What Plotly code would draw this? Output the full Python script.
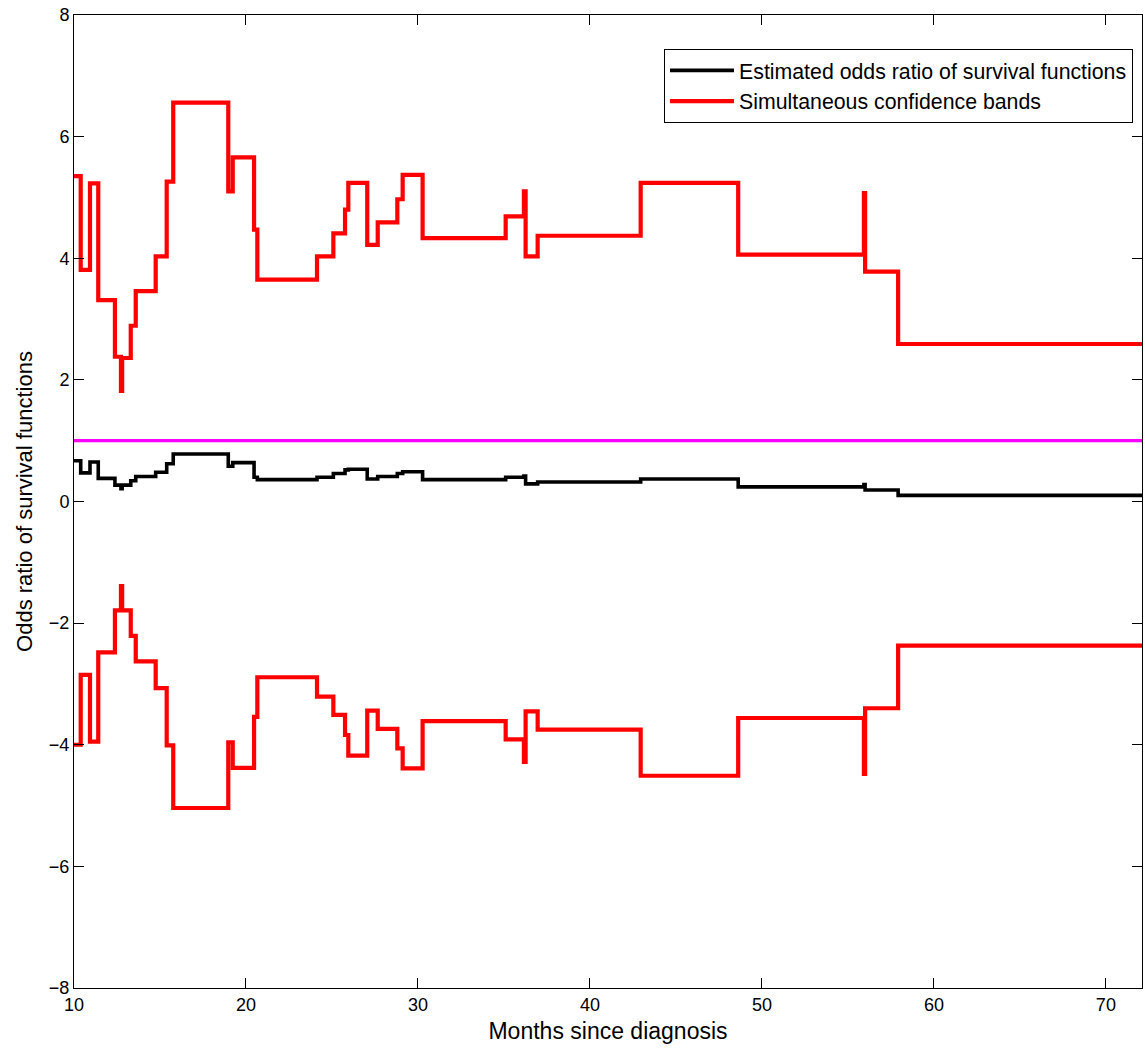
import plotly.graph_objects as go

# Step times (months since diagnosis) at which the curves jump
times = [10.0, 10.39, 10.93, 11.41, 12.38, 12.73, 12.80, 13.30, 13.59, 14.75, 15.39, 15.77,
         18.97, 19.23, 20.47, 20.66, 24.13, 25.08, 25.76, 25.95, 27.05, 27.66, 28.80, 29.11,
         30.27, 35.10, 36.16, 36.26, 36.96, 42.95, 48.62, 55.93, 56.00, 57.92, 72.1]

upper_band = [5.35, 3.81, 5.23, 3.31, 2.38, 1.82, 2.36, 2.89, 3.46, 4.03, 5.26, 6.56,
              5.10, 5.66, 4.47, 3.65, 4.03, 4.41, 4.80, 5.24, 4.22, 4.59, 4.97, 5.37,
              4.33, 4.69, 5.10, 4.03, 4.37, 5.24, 4.06, 5.07, 3.78, 2.59, 2.59]

lower_band = [-4.00, -2.85, -3.95, -2.48, -1.79, -1.39, -1.79, -2.21, -2.63, -3.07, -4.01, -5.04,
              -3.96, -4.38, -3.54, -2.89, -3.21, -3.51, -3.84, -4.18, -3.44, -3.74, -4.06, -4.39,
              -3.61, -3.91, -4.28, -3.45, -3.75, -4.51, -3.56, -4.48, -3.40, -2.37, -2.37]

estimate = [0.67, 0.47, 0.65, 0.38, 0.27, 0.21, 0.27, 0.34, 0.41, 0.48, 0.62, 0.78,
            0.58, 0.64, 0.40, 0.36, 0.40, 0.46, 0.52, 0.53, 0.37, 0.41, 0.46, 0.49,
            0.36, 0.40, 0.42, 0.29, 0.32, 0.37, 0.24, 0.28, 0.19, 0.10, 0.10]

reference_x = [10.0, 72.1]
reference_y = [1.0, 1.0]

x_ticks = [10, 20, 30, 40, 50, 60, 70]
y_ticks = [-8, -6, -4, -2, 0, 2, 4, 6, 8]

FONT = "Liberation Sans, Arial, sans-serif"

fig = go.Figure()
fig.add_trace(go.Scatter(x=reference_x, y=reference_y, mode="lines",
                         line=dict(color="#ff00ff", width=3.2), showlegend=False,
                         hoverinfo="skip"))
fig.add_trace(go.Scatter(x=times, y=estimate, mode="lines", line_shape="hv",
                         line=dict(color="black", width=3.6),
                         name="Estimated odds ratio of survival functions"))
fig.add_trace(go.Scatter(x=times, y=upper_band, mode="lines", line_shape="hv",
                         line=dict(color="#ff0000", width=4.2),
                         name="Simultaneous confidence bands", legendgroup="cb"))
fig.add_trace(go.Scatter(x=times, y=lower_band, mode="lines", line_shape="hv",
                         line=dict(color="#ff0000", width=4.2),
                         name="Simultaneous confidence bands", legendgroup="cb",
                         showlegend=False))

fig.update_layout(
    width=1145, height=1048,
    margin=dict(l=74, r=3, t=15, b=60),
    paper_bgcolor="white", plot_bgcolor="white",
    font=dict(family=FONT, size=19, color="black"),
    legend=dict(x=0.9916, y=0.965, xanchor="right", yanchor="top",
                bgcolor="white", bordercolor="black", borderwidth=1,
                font=dict(size=21.3), tracegroupgap=0, itemwidth=64),
    xaxis=dict(range=[10, 72.1], tickvals=x_ticks, ticks="inside", ticklen=10,
               tickcolor="black", showline=True, linecolor="black", linewidth=1,
               mirror="ticks", showgrid=False, zeroline=False,
               tickfont=dict(size=18),
               title=dict(text="Months since diagnosis", standoff=9,
                          font=dict(size=23))),
    yaxis=dict(range=[-8, 8], tickvals=y_ticks, ticks="inside", ticklen=10,
               tickcolor="black", showline=True, linecolor="black", linewidth=1,
               mirror="ticks", showgrid=False, zeroline=False,
               tickfont=dict(size=18),
               title=dict(text="Odds ratio of survival functions", standoff=10,
                          font=dict(size=22))),
)

fig.write_html("out.html", config={"displayModeBar": False},
               post_script="document.body.style.margin='0';document.body.style.overflow='hidden';")
